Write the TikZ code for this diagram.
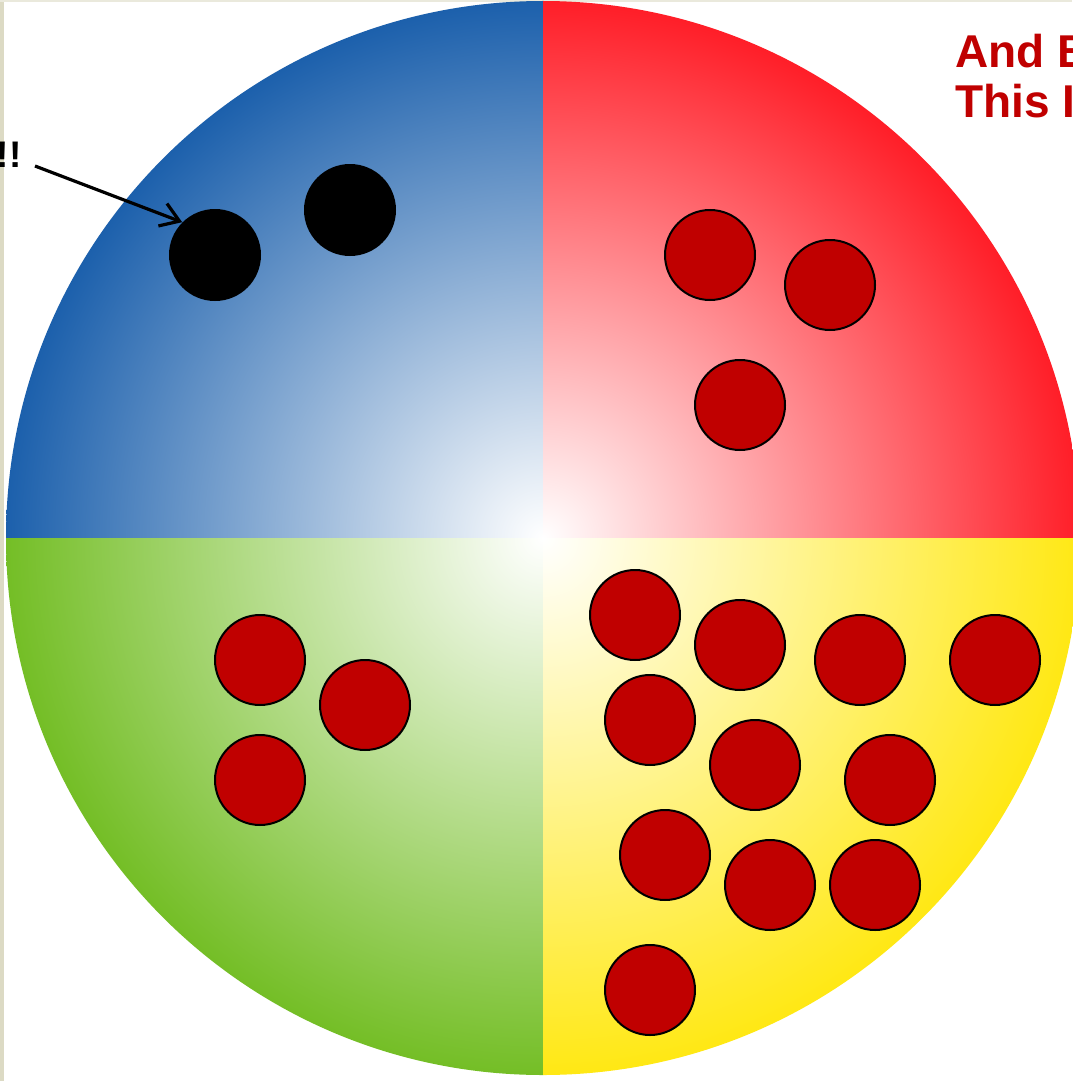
\documentclass[tikz,border=0pt]{standalone}
\usepackage{fontspec}
\setmainfont{Liberation Sans}
\usetikzlibrary{arrows.meta}
\definecolor{qbluec}{RGB}{28,96,172}
\definecolor{qredc}{RGB}{255,30,40}
\definecolor{qgreenc}{RGB}{116,190,38}
\definecolor{qyellowc}{RGB}{255,232,20}
\definecolor{dotred}{RGB}{192,0,0}
\definecolor{edgebeige}{RGB}{220,218,196}
\pgfdeclareradialshading{shblue}{\pgfpoint{0bp}{0bp}}{color(0bp)=(white); color(25bp)=(qbluec); color(50bp)=(qbluec)}
\pgfdeclareradialshading{shred}{\pgfpoint{0bp}{0bp}}{color(0bp)=(white); color(25bp)=(qredc); color(50bp)=(qredc)}
\pgfdeclareradialshading{shgreen}{\pgfpoint{0bp}{0bp}}{color(0bp)=(white); color(25bp)=(qgreenc); color(50bp)=(qgreenc)}
\pgfdeclareradialshading{shyellow}{\pgfpoint{0bp}{0bp}}{color(0bp)=(white); color(25bp)=(qyellowc); color(50bp)=(qyellowc)}
\tikzset{
  reddot/.style={circle, fill=dotred, draw=black, line width=1pt, minimum size=45pt, inner sep=0pt},
  blackdot/.style={circle, fill=black, minimum size=46pt, inner sep=0pt},
  pointer/.style={draw=black, line width=1.6pt, -{Straight Barb[length=9pt,width=12pt,line width=1.6pt]}},
  headline/.style={text=dotred, font=\bfseries\fontsize{23pt}{25pt}\selectfont, anchor=base west, inner sep=0pt},
  shout/.style={text=black, font=\bfseries\fontsize{18.5pt}{20pt}\selectfont, anchor=base east, inner sep=0pt}
}
\begin{document}
\begin{tikzpicture}[x=0.5pt,y=-0.5pt]
\useasboundingbox (0,0) rectangle (1072,1081);
\fill[white] (0,0) rectangle (1072,1081);
\fill[edgebeige] (0,0) rectangle (4,1081);
\fill[edgebeige!60] (0,0) rectangle (1072,2);
% quadrants
\coordinate (ctr) at (543,538);
\begin{scope}
  \clip (543,538) rectangle (0,0);
  \shade[shading=shblue] (ctr) circle[radius=268.5pt];
\end{scope}
\begin{scope}
  \clip (543,538) rectangle (1100,0);
  \shade[shading=shred] (ctr) circle[radius=268.5pt];
\end{scope}
\begin{scope}
  \clip (543,538) rectangle (0,1100);
  \shade[shading=shgreen] (ctr) circle[radius=268.5pt];
\end{scope}
\begin{scope}
  \clip (543,538) rectangle (1100,1100);
  \shade[shading=shyellow] (ctr) circle[radius=268.5pt];
\end{scope}
% black dots
\node[blackdot] (b1) at (215,255) {};
\node[blackdot] (b2) at (350,210) {};
% red quadrant
\node[reddot] (r1) at (710,255) {};
\node[reddot] (r2) at (830,285) {};
\node[reddot] (r3) at (740,405) {};
% green quadrant
\node[reddot] (g1) at (260,660) {};
\node[reddot] (g2) at (365,705) {};
\node[reddot] (g3) at (260,780) {};
% yellow quadrant
\node[reddot] (y1) at (635,615) {};
\node[reddot] (y2) at (740,645) {};
\node[reddot] (y3) at (860,660) {};
\node[reddot] (y4) at (995,660) {};
\node[reddot] (y5) at (650,720) {};
\node[reddot] (y6) at (755,765) {};
\node[reddot] (y7) at (890,780) {};
\node[reddot] (y8) at (665,855) {};
\node[reddot] (y9) at (770,885) {};
\node[reddot] (y10) at (875,885) {};
\node[reddot] (y11) at (650,990) {};
% texts
\node[headline] (t1) at (955,68) {And B};
\node[headline] (t2) at (955,118) {This Is};
\node[shout] (ex) at (22,167) {!!};
\coordinate (as) at (35,166);
\draw[pointer] (as) -- (b1.135);
\end{tikzpicture}
\end{document}
